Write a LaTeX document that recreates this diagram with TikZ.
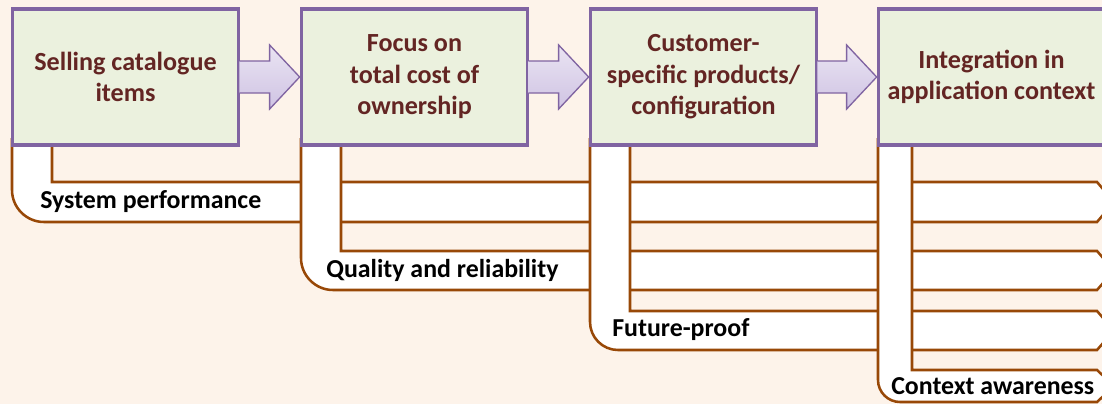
\documentclass[tikz,border=0pt]{standalone}
\usepackage{fontspec}
\setmainfont{Carlito}
\usetikzlibrary{calc,shadows}
\definecolor{bgc}{HTML}{FDF3EA}
\definecolor{boxfill}{HTML}{EBF1DE}
\definecolor{boxline}{HTML}{8064A2}
\definecolor{boxtext}{HTML}{632523}
\definecolor{bandline}{HTML}{984807}
\definecolor{arrtop}{HTML}{EAE4F3}
\definecolor{arrbot}{HTML}{CFC3E3}
\tikzset{
  stagebox/.style={draw=boxline, line width=2.3pt, fill=boxfill, minimum width=170pt, minimum height=102pt,
    inner sep=0pt, align=center, text=boxtext, font=\bfseries\fontsize{19.6}{23.6}\selectfont,
    drop shadow={opacity=0.25, shadow xshift=1.2pt, shadow yshift=-1.2pt}},
  bigarrow/.style={draw=boxline, line width=1pt, top color=arrtop, bottom color=arrbot, line join=miter},
  bandstyle/.style={draw=bandline, line width=1.9pt, fill=white, line join=miter},
  bandlabel/.style={anchor=west, inner sep=0pt, text=black, font=\bfseries\fontsize{19.4}{22}\selectfont}
}
\newcommand\bandshape[5]{%
  \filldraw[bandstyle] (#1,138) -- (#1,{#4-#5})
    .. controls (#1,{#4-0.45*#5}) and ({#1+0.45*#5},#4) .. ({#1+#5},#4)
    -- (1097,#4) -- (1114,{(#3+#4)/2}) -- (1097,#3) -- (#2,#3) -- (#2,138);}
\begin{document}
\begin{tikzpicture}[x=0.75pt,y=-0.75pt]
\useasboundingbox (0,0) rectangle (1102,404);
\clip (0,0) rectangle (1102,404);
\fill[bgc] (0,0) rectangle (1102,404);
% bands
\bandshape{12}{52}{182}{222}{32}
\bandshape{301}{341}{251}{290}{32}
\bandshape{590}{630}{311}{350}{28}
\bandshape{878}{912}{370}{402}{22}
% labels
\node[bandlabel] (l1) at (40,202) {System performance};
\node[bandlabel] (l2) at (326,270) {Quality and reliability};
\node[bandlabel] (l3) at (612,330) {Future-proof};
\node[bandlabel] (l4) at (891,386) {Context awareness};
% boxes
\node[stagebox] (b1) at (125.5,77) {Selling catalogue\\items};
\node[stagebox] (b2) at (414.5,77) {Focus on\\total cost of\\ownership};
\node[stagebox] (b3) at (703.5,77) {Customer-\\specific products/\\configuration};
\node[stagebox] (b4) at (991.5,77) {Integration in\\application context};
% arrows
\foreach \a/\b in {b1/b2,b2/b3,b3/b4}{
  \draw[bigarrow] ($(\a.east)+(-1,-16)$) -- ($(\b.west)+(-30,-16)$) -- ($(\b.west)+(-30,-32)$)
    -- (\b.west) -- ($(\b.west)+(-30,32)$) -- ($(\b.west)+(-30,16)$) -- ($(\a.east)+(-1,16)$);
}
\end{tikzpicture}
\end{document}
